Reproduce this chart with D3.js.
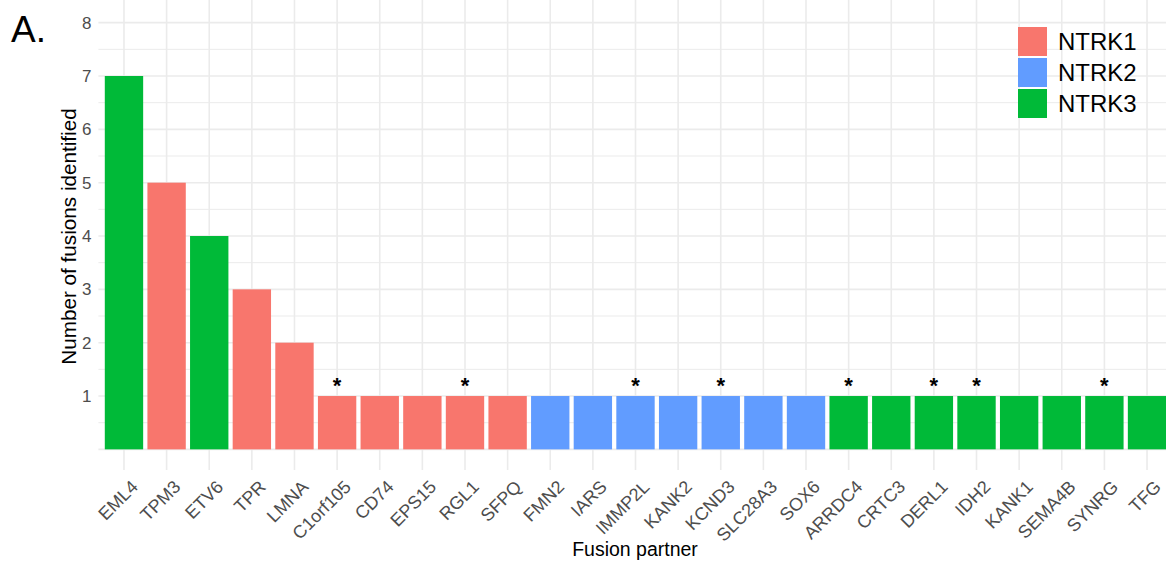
<!DOCTYPE html>
<html>
<head>
<meta charset="utf-8">
<script src="https://cdn.jsdelivr.net/npm/d3@7"></script>
<style>
  html, body { margin: 0; padding: 0; background: #fff; }
  svg { display: block; font-family: "Liberation Sans", Arial, Helvetica, sans-serif; }
</style>
</head>
<body>
<svg id="chart" width="1166" height="565"></svg>
<script>
// ---- data ----
const partners = ["EML4","TPM3","ETV6","TPR","LMNA","C1orf105","CD74","EPS15","RGL1","SFPQ",
  "FMN2","IARS","IMMP2L","KANK2","KCND3","SLC28A3","SOX6",
  "ARRDC4","CRTC3","DERL1","IDH2","KANK1","SEMA4B","SYNRG","TFG"];
const counts = [7,5,4,3,2,1,1,1,1,1, 1,1,1,1,1,1,1, 1,1,1,1,1,1,1,1];
const genes = ["NTRK3","NTRK1","NTRK3","NTRK1","NTRK1","NTRK1","NTRK1","NTRK1","NTRK1","NTRK1",
  "NTRK2","NTRK2","NTRK2","NTRK2","NTRK2","NTRK2","NTRK2",
  "NTRK3","NTRK3","NTRK3","NTRK3","NTRK3","NTRK3","NTRK3","NTRK3"];
const starred = ["C1orf105","RGL1","IMMP2L","KCND3","ARRDC4","DERL1","IDH2","SYNRG"];
const legendKeys = ["NTRK1","NTRK2","NTRK3"];
const legendColors = ["#F8766D","#619CFF","#00BA38"];
const yTickLabels = [1,2,3,4,5,6,7,8];

const data = partners.map((p,i)=>({partner:p, count:counts[i], gene:genes[i]}));

const svg = d3.select("#chart");
const panel = {left: 98.4, right: 1172.6, top: 0, bottom: 470};

const color = d3.scaleOrdinal().domain(legendKeys).range(legendColors);

// discrete x scale with ggplot-like 0.6 expansion
const n = partners.length;
const step = (panel.right - panel.left) / (n - 1 + 1.2);
const x = d3.scaleBand().domain(partners)
  .range([panel.left + 0.6*step - step/2, panel.right - 0.6*step + step/2])
  .paddingInner(0.1).paddingOuter(0.05);
const xc = p => x(p) + x.bandwidth()/2;

const y = d3.scaleLinear().domain([-0.387, 8.425]).range([panel.bottom, panel.top]);

// gridlines
const g = svg.append("g");
const minor = d3.range(0.5, 8, 1);
g.selectAll(".ymin").data(minor).join("line")
  .attr("x1", panel.left).attr("x2", panel.right)
  .attr("y1", d=>y(d)).attr("y2", d=>y(d))
  .attr("stroke", "#EBEBEB").attr("stroke-width", 1);
g.selectAll(".ymaj").data(d3.range(0, 9)).join("line")
  .attr("x1", panel.left).attr("x2", panel.right)
  .attr("y1", d=>y(d)).attr("y2", d=>y(d))
  .attr("stroke", "#EBEBEB").attr("stroke-width", 1.6);
g.selectAll(".xmaj").data(partners).join("line")
  .attr("x1", d=>xc(d)).attr("x2", d=>xc(d))
  .attr("y1", panel.top).attr("y2", panel.bottom)
  .attr("stroke", "#EBEBEB").attr("stroke-width", 1.6);

// bars
svg.append("g").selectAll("rect").data(data).join("rect")
  .attr("x", d=>x(d.partner))
  .attr("width", x.bandwidth())
  .attr("y", d=>y(d.count))
  .attr("height", d=>y(0)-y(d.count))
  .attr("fill", d=>color(d.gene));

// asterisks
svg.append("g").selectAll("text").data(data.filter(d=>starred.includes(d.partner))).join("text")
  .attr("x", d=>xc(d.partner))
  .attr("y", d=>y(d.count) - 3)
  .attr("text-anchor", "middle")
  .attr("font-size", 22)
  .attr("font-weight", "bold")
  .attr("fill", "#000")
  .text("*");

// y axis labels
const yAxis = d3.axisLeft(y).tickValues(yTickLabels).tickSize(0).tickPadding(6);
const ya = svg.append("g").attr("transform", `translate(${panel.left - 1},0)`).call(yAxis);
ya.select(".domain").remove();
ya.selectAll("text").attr("font-size", 17).attr("fill", "#4D4D4D")
  .attr("font-family", "'Liberation Sans', Arial, sans-serif");

// x axis labels
const xAxis = d3.axisBottom(x).tickSize(0);
const xa = svg.append("g").attr("transform", `translate(0,${panel.bottom})`).call(xAxis);
xa.select(".domain").remove();
xa.selectAll("text")
  .attr("font-size", 18).attr("fill", "#4D4D4D")
  .attr("font-family", "'Liberation Sans', Arial, sans-serif")
  .attr("text-anchor", "end")
  .attr("y", 0).attr("dy", "0.71em")
  .attr("transform", "translate(6,9) rotate(-45)");

// axis titles
svg.append("text").attr("x", 635).attr("y", 556)
  .attr("text-anchor", "middle").attr("font-size", 19.5).attr("fill", "#000")
  .text("Fusion partner");
svg.append("text").attr("transform", `translate(75.5,236.5) rotate(-90)`)
  .attr("text-anchor", "middle").attr("font-size", 20.7).attr("fill", "#000")
  .text("Number of fusions identified");

// panel tag
svg.append("text").attr("x", 11).attr("y", 42).attr("font-size", 37).attr("fill", "#000").text("A.");

// legend
const lg = svg.append("g");
lg.selectAll("rect").data(legendKeys).join("rect")
  .attr("x", 1018).attr("y", (d,i)=>27 + i*31)
  .attr("width", 29).attr("height", 29)
  .attr("fill", d=>color(d));
lg.selectAll("text").data(legendKeys).join("text")
  .attr("x", 1058).attr("y", (d,i)=>41.5 + i*31)
  .attr("dy", "0.36em")
  .attr("font-size", 24).attr("fill", "#000")
  .text(d=>d);
</script>
</body>
</html>
